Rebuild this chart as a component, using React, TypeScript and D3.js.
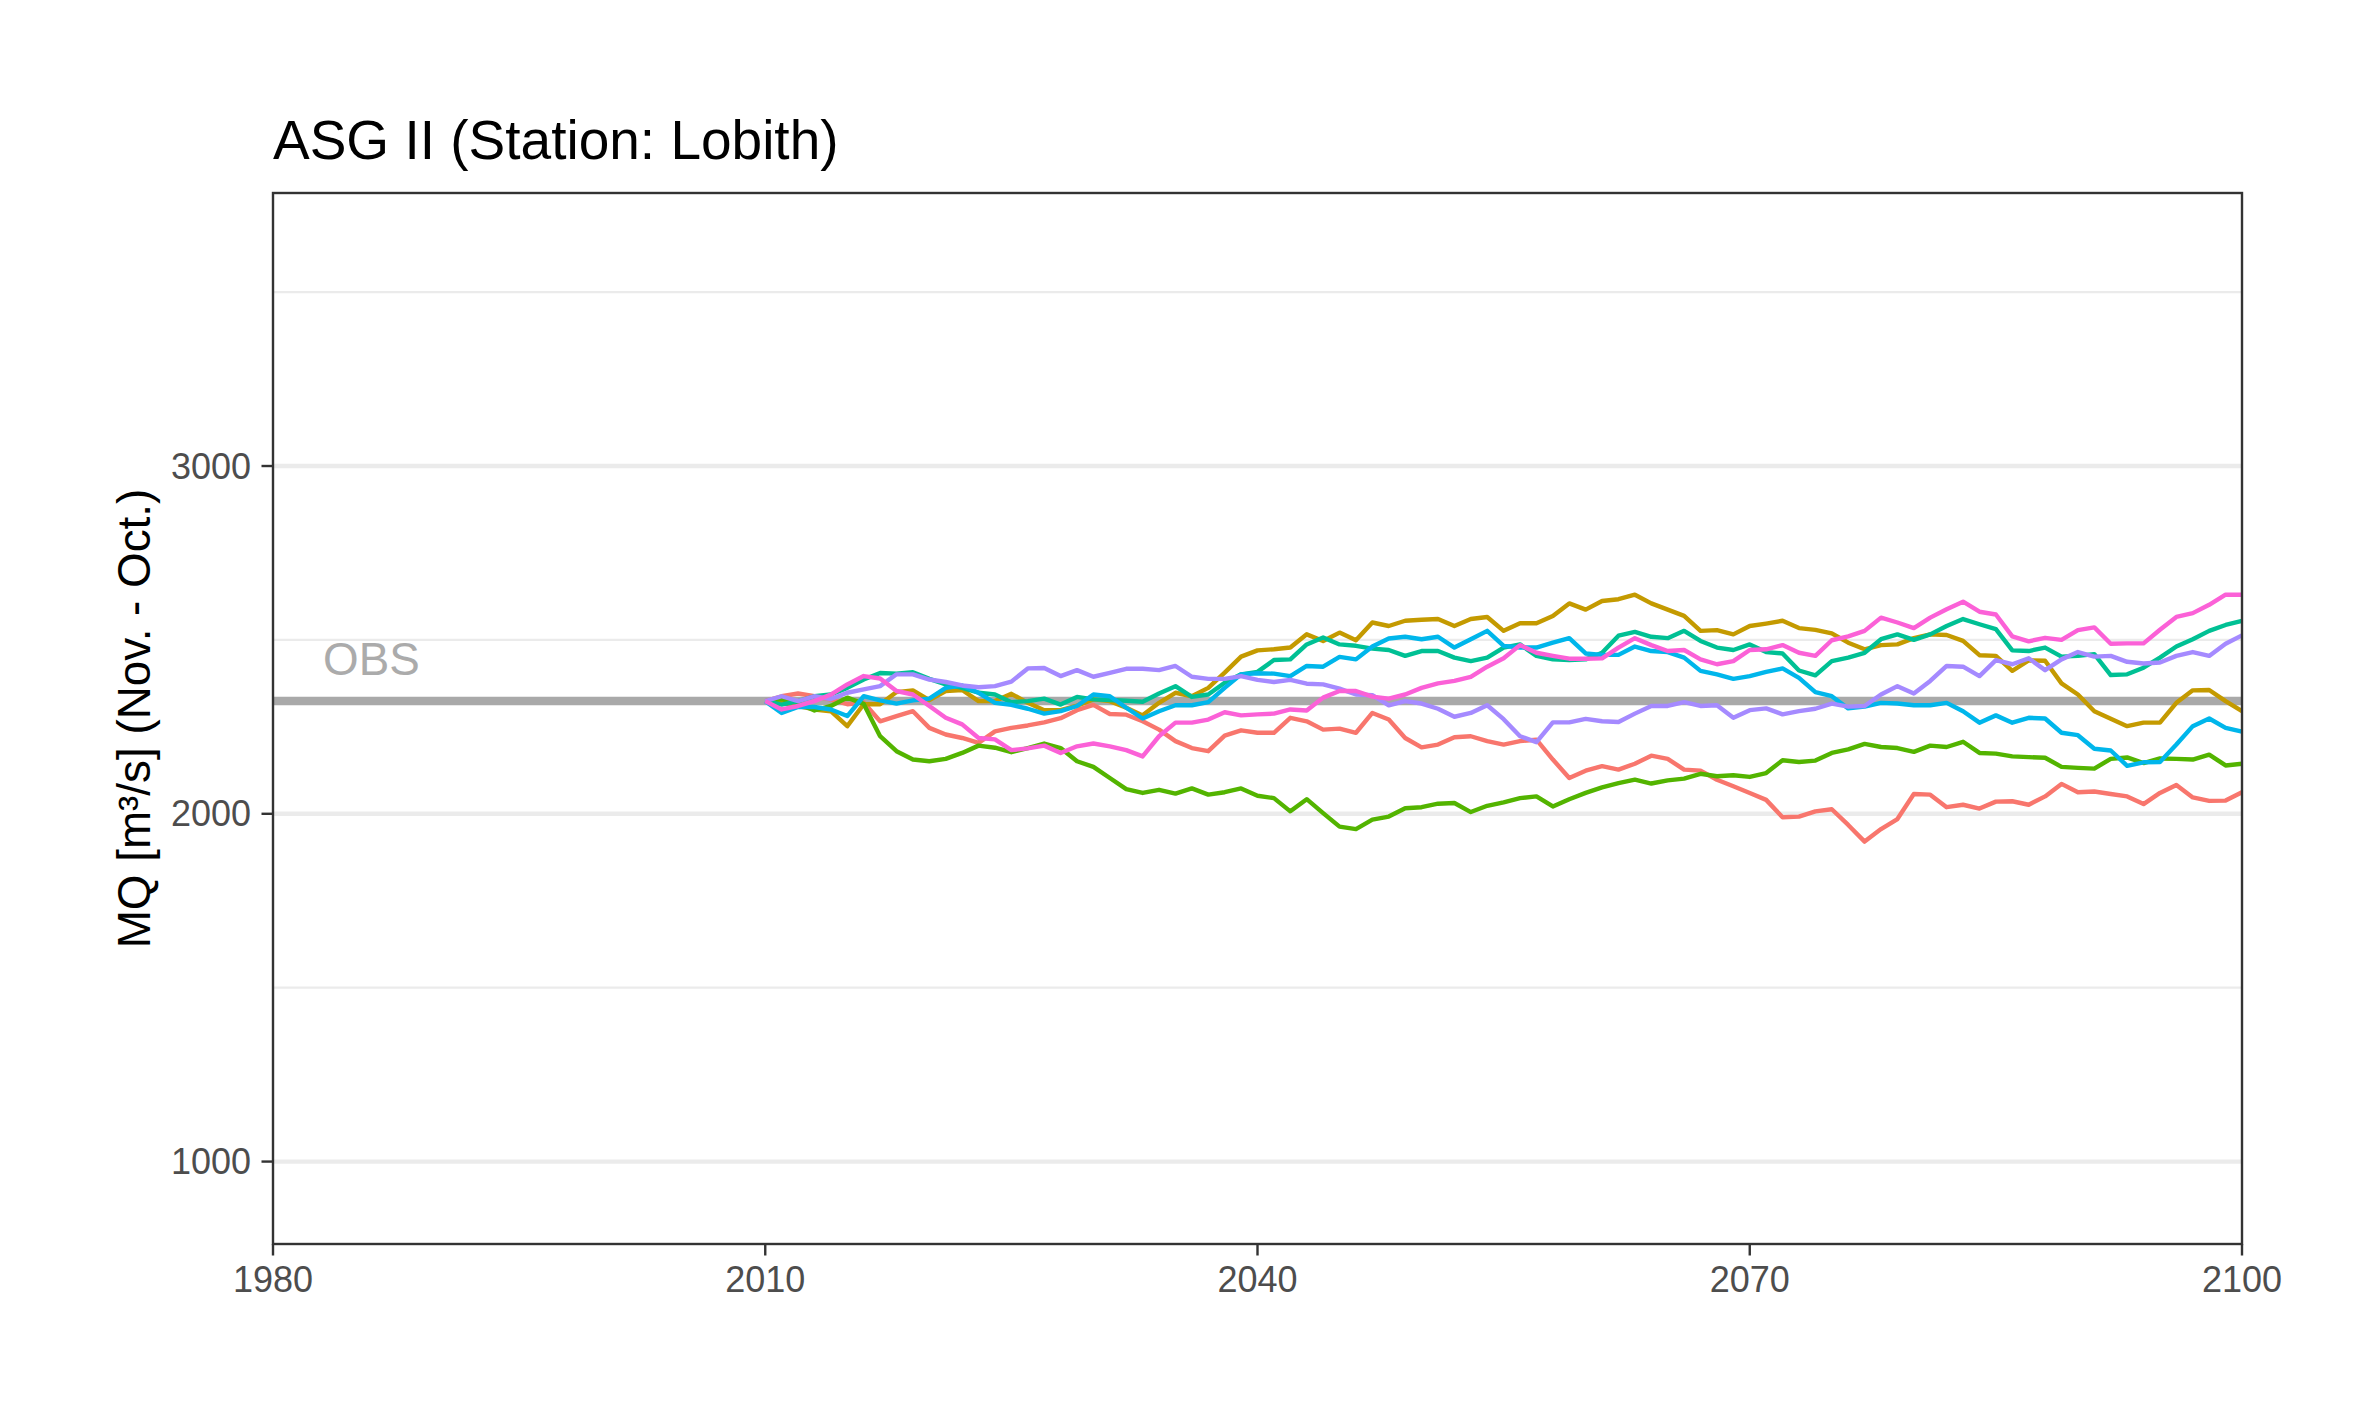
import React from 'react';
import * as d3 from 'd3';

// yearly series, 2010 .. 2100
const years = d3.range(2010, 2101);

const run1 = [
  2324, 2338, 2346, 2338, 2328, 2315, 2320, 2266, 2281, 2295, 2247, 2228, 2218, 2204, 2237, 2247,
  2254, 2263, 2275, 2298, 2313, 2287, 2285, 2266, 2242, 2209, 2189, 2180, 2225, 2240, 2233,
  2233, 2276, 2266, 2242, 2245, 2233, 2290, 2271, 2218, 2191, 2199, 2220, 2223, 2209, 2199,
  2209, 2213, 2156, 2103, 2124, 2137, 2127, 2144, 2167, 2158, 2127, 2124, 2098, 2079, 2060,
  2040, 1990, 1992, 2007, 2013, 1968, 1920, 1956, 1985, 2057, 2055, 2019, 2026, 2015, 2035,
  2036, 2026, 2050, 2086, 2062, 2064, 2057, 2050, 2028, 2060, 2083, 2047, 2037, 2038, 2062
];
const run2 = [
  2324, 2320, 2310, 2300, 2295, 2252, 2315, 2315, 2350, 2355, 2327, 2353, 2356, 2324, 2324, 2345,
  2319, 2298, 2298, 2311, 2329, 2324, 2305, 2283, 2319, 2348, 2338, 2362, 2406, 2452, 2470,
  2473, 2478, 2516, 2497, 2521, 2499, 2550, 2540, 2555, 2558, 2560, 2540, 2560, 2566, 2526,
  2548, 2548, 2569, 2605, 2587, 2612, 2617, 2630, 2605, 2587, 2569, 2526, 2528, 2516, 2540,
  2547, 2555, 2534, 2529, 2519, 2492, 2473, 2485, 2487, 2505, 2516, 2514, 2497, 2456, 2454,
  2411, 2441, 2440, 2375, 2343, 2295, 2273, 2252, 2262, 2262, 2319, 2355, 2356, 2324, 2295
];
const run3 = [
  2324, 2330, 2318, 2297, 2310, 2334, 2316, 2223, 2180, 2156, 2151, 2158, 2175, 2196, 2190, 2177,
  2189, 2202, 2189, 2151, 2135, 2103, 2071, 2060, 2069, 2058, 2073, 2055, 2062, 2073, 2052,
  2045, 2007, 2042, 2002, 1963, 1956, 1983, 1992, 2016, 2019, 2029, 2031, 2005, 2023, 2033,
  2045, 2050, 2021, 2042, 2060, 2076, 2088, 2098, 2087, 2096, 2101, 2115, 2108, 2111, 2106,
  2117, 2154, 2149, 2153, 2175, 2185, 2201, 2192, 2189, 2178, 2196, 2192, 2207, 2175, 2173,
  2165, 2163, 2161, 2135, 2132, 2130, 2158, 2162, 2146, 2159, 2158, 2156, 2170, 2139, 2144
];
const run4 = [
  2324, 2314, 2324, 2338, 2343, 2362, 2386, 2405, 2403, 2407, 2388, 2372, 2362, 2348, 2343, 2321,
  2324, 2331, 2314, 2336, 2329, 2327, 2325, 2322, 2346, 2367, 2336, 2343, 2377, 2401, 2408,
  2442, 2444, 2487, 2507, 2487, 2483, 2475, 2471, 2454, 2468, 2468, 2449, 2439, 2449, 2478,
  2487, 2454, 2444, 2442, 2444, 2463, 2512, 2523, 2509, 2505, 2526, 2497, 2478, 2471, 2487,
  2465, 2461, 2412, 2398, 2439, 2449, 2463, 2502, 2516, 2500, 2516, 2540, 2560, 2545, 2531,
  2470, 2468, 2478, 2452, 2454, 2459, 2399, 2401, 2420, 2449, 2481, 2502, 2526, 2543, 2555
];
const run5 = [
  2324, 2290, 2307, 2307, 2300, 2281, 2338, 2326, 2317, 2326, 2331, 2362, 2369, 2348, 2319, 2313,
  2302, 2288, 2295, 2310, 2343, 2338, 2305, 2274, 2295, 2312, 2312, 2321, 2362, 2401, 2404,
  2403, 2396, 2425, 2423, 2451, 2444, 2481, 2504, 2509, 2502, 2509, 2478, 2502, 2526, 2483,
  2478, 2478, 2492, 2505, 2461, 2457, 2457, 2481, 2468, 2465, 2449, 2411, 2401, 2388, 2396,
  2408, 2418, 2391, 2350, 2338, 2303, 2308, 2319, 2317, 2312, 2312, 2319, 2295, 2262, 2283,
  2262, 2276, 2274, 2233, 2226, 2187, 2182, 2138, 2148, 2149, 2199, 2252, 2274, 2247, 2236
];
const run6 = [
  2324, 2338, 2324, 2338, 2330, 2348, 2358, 2367, 2401, 2401, 2386, 2379, 2369, 2364, 2367, 2380,
  2418, 2419, 2396, 2413, 2394, 2405, 2417, 2417, 2413, 2425, 2394, 2388, 2388, 2396, 2385,
  2379, 2385, 2374, 2372, 2360, 2343, 2341, 2312, 2324, 2317, 2302, 2279, 2290, 2312, 2272,
  2223, 2206, 2263, 2263, 2273, 2266, 2264, 2288, 2310, 2310, 2321, 2310, 2312, 2276, 2298,
  2303, 2286, 2295, 2302, 2317, 2308, 2310, 2343, 2367, 2346, 2382, 2425, 2423, 2396, 2442,
  2430, 2447, 2413, 2444, 2465, 2452, 2454, 2437, 2432, 2435, 2454, 2465, 2454, 2489, 2513
];
const run7 = [
  2324, 2300, 2310, 2324, 2343, 2372, 2396, 2389, 2353, 2343, 2310, 2276, 2257, 2218, 2214, 2183,
  2188, 2196, 2175, 2194, 2202, 2194, 2183, 2165, 2223, 2262, 2262, 2271, 2292, 2283, 2286,
  2288, 2300, 2297, 2334, 2353, 2353, 2337, 2331, 2343, 2362, 2375, 2382, 2394, 2423, 2447,
  2485, 2463, 2454, 2446, 2446, 2447, 2478, 2505, 2485, 2468, 2471, 2444, 2430, 2439, 2471,
  2473, 2485, 2463, 2454, 2499, 2510, 2526, 2564, 2550, 2534, 2564, 2588, 2610, 2581, 2573,
  2510, 2496, 2506, 2500, 2528, 2536, 2489, 2490, 2490, 2529, 2566, 2577, 2601, 2630, 2630
];

const runs = [run1, run2, run3, run4, run5, run6, run7];
const runColors = ['#F8766D', '#C49A00', '#53B400', '#00C094', '#00B6EB', '#A58AFF', '#FB61D7'];

const obsValue = 2324;
const obsLabel = { year: 1986, value: 2443, text: 'OBS' };

const xTicks = [1980, 2010, 2040, 2070, 2100];
const yTicks = [1000, 2000, 3000];
const yMinor = [1500, 2500, 3500];

const title = 'ASG II (Station: Lobith)';
const yTitle = 'MQ [m³/s] (Nov. - Oct.)';

const W = 2362;
const H = 1417;
const panel = { left: 273, right: 2242, top: 193, bottom: 1244 };
const font = '"Liberation Sans", Arial, Helvetica, sans-serif';

export default function App() {
  const x = d3.scaleLinear().domain([1980, 2100]).range([panel.left, panel.right]);
  const y = d3.scaleLinear().domain([763, 3785]).range([panel.bottom, panel.top]);

  const line = d3
    .line<number>()
    .x((_, i) => x(years[i]))
    .y((d) => y(d));

  return (
    <svg
      width={W}
      height={H}
      style={{ position: 'absolute', left: 0, top: 0, background: '#fff' }}
      fontFamily={font}
    >
      <rect x={0} y={0} width={W} height={H} fill="#fff" />

      {/* grid */}
      {yMinor.map((v) => (
        <line key={'m' + v} x1={panel.left} x2={panel.right} y1={y(v)} y2={y(v)} stroke="#EBEBEB" strokeWidth={2.2} />
      ))}
      {yTicks.map((v) => (
        <line key={'g' + v} x1={panel.left} x2={panel.right} y1={y(v)} y2={y(v)} stroke="#EBEBEB" strokeWidth={4.4} />
      ))}

      {/* observed mean */}
      <line x1={panel.left} x2={panel.right} y1={y(obsValue)} y2={y(obsValue)} stroke="#A9A9A9" strokeWidth={8.5} />
      <text
        x={x(obsLabel.year)}
        y={y(obsLabel.value)}
        textAnchor="middle"
        dominantBaseline="central"
        fontSize={45.8}
        fill="#ABABAB"
      >
        {obsLabel.text}
      </text>

      {/* model runs */}
      {runs.map((r, i) => (
        <path
          key={i}
          d={line(r) ?? ''}
          fill="none"
          stroke={runColors[i]}
          strokeWidth={4.4}
          strokeLinejoin="round"
          strokeLinecap="butt"
        />
      ))}

      {/* panel border */}
      <rect
        x={panel.left}
        y={panel.top}
        width={panel.right - panel.left}
        height={panel.bottom - panel.top}
        fill="none"
        stroke="#333333"
        strokeWidth={2.4}
      />

      {/* x axis */}
      {xTicks.map((t) => (
        <g key={'x' + t}>
          <line x1={x(t)} x2={x(t)} y1={panel.bottom} y2={panel.bottom + 11.5} stroke="#333333" strokeWidth={2.4} />
          <text x={x(t)} y={1292} textAnchor="middle" fontSize={36} fill="#4D4D4D">
            {t}
          </text>
        </g>
      ))}

      {/* y axis */}
      {yTicks.map((v) => (
        <g key={'y' + v}>
          <line x1={panel.left - 11.5} x2={panel.left} y1={y(v)} y2={y(v)} stroke="#333333" strokeWidth={2.4} />
          <text x={251} y={y(v)} textAnchor="end" dominantBaseline="central" fontSize={36} fill="#4D4D4D">
            {v}
          </text>
        </g>
      ))}

      <text
        transform={`translate(150,${(panel.top + panel.bottom) / 2}) rotate(-90)`}
        textAnchor="middle"
        fontSize={45.8}
        fill="#000"
      >
        {yTitle}
      </text>

      <text x={panel.left} y={159} fontSize={55} fill="#000">
        {title}
      </text>
    </svg>
  );
}
